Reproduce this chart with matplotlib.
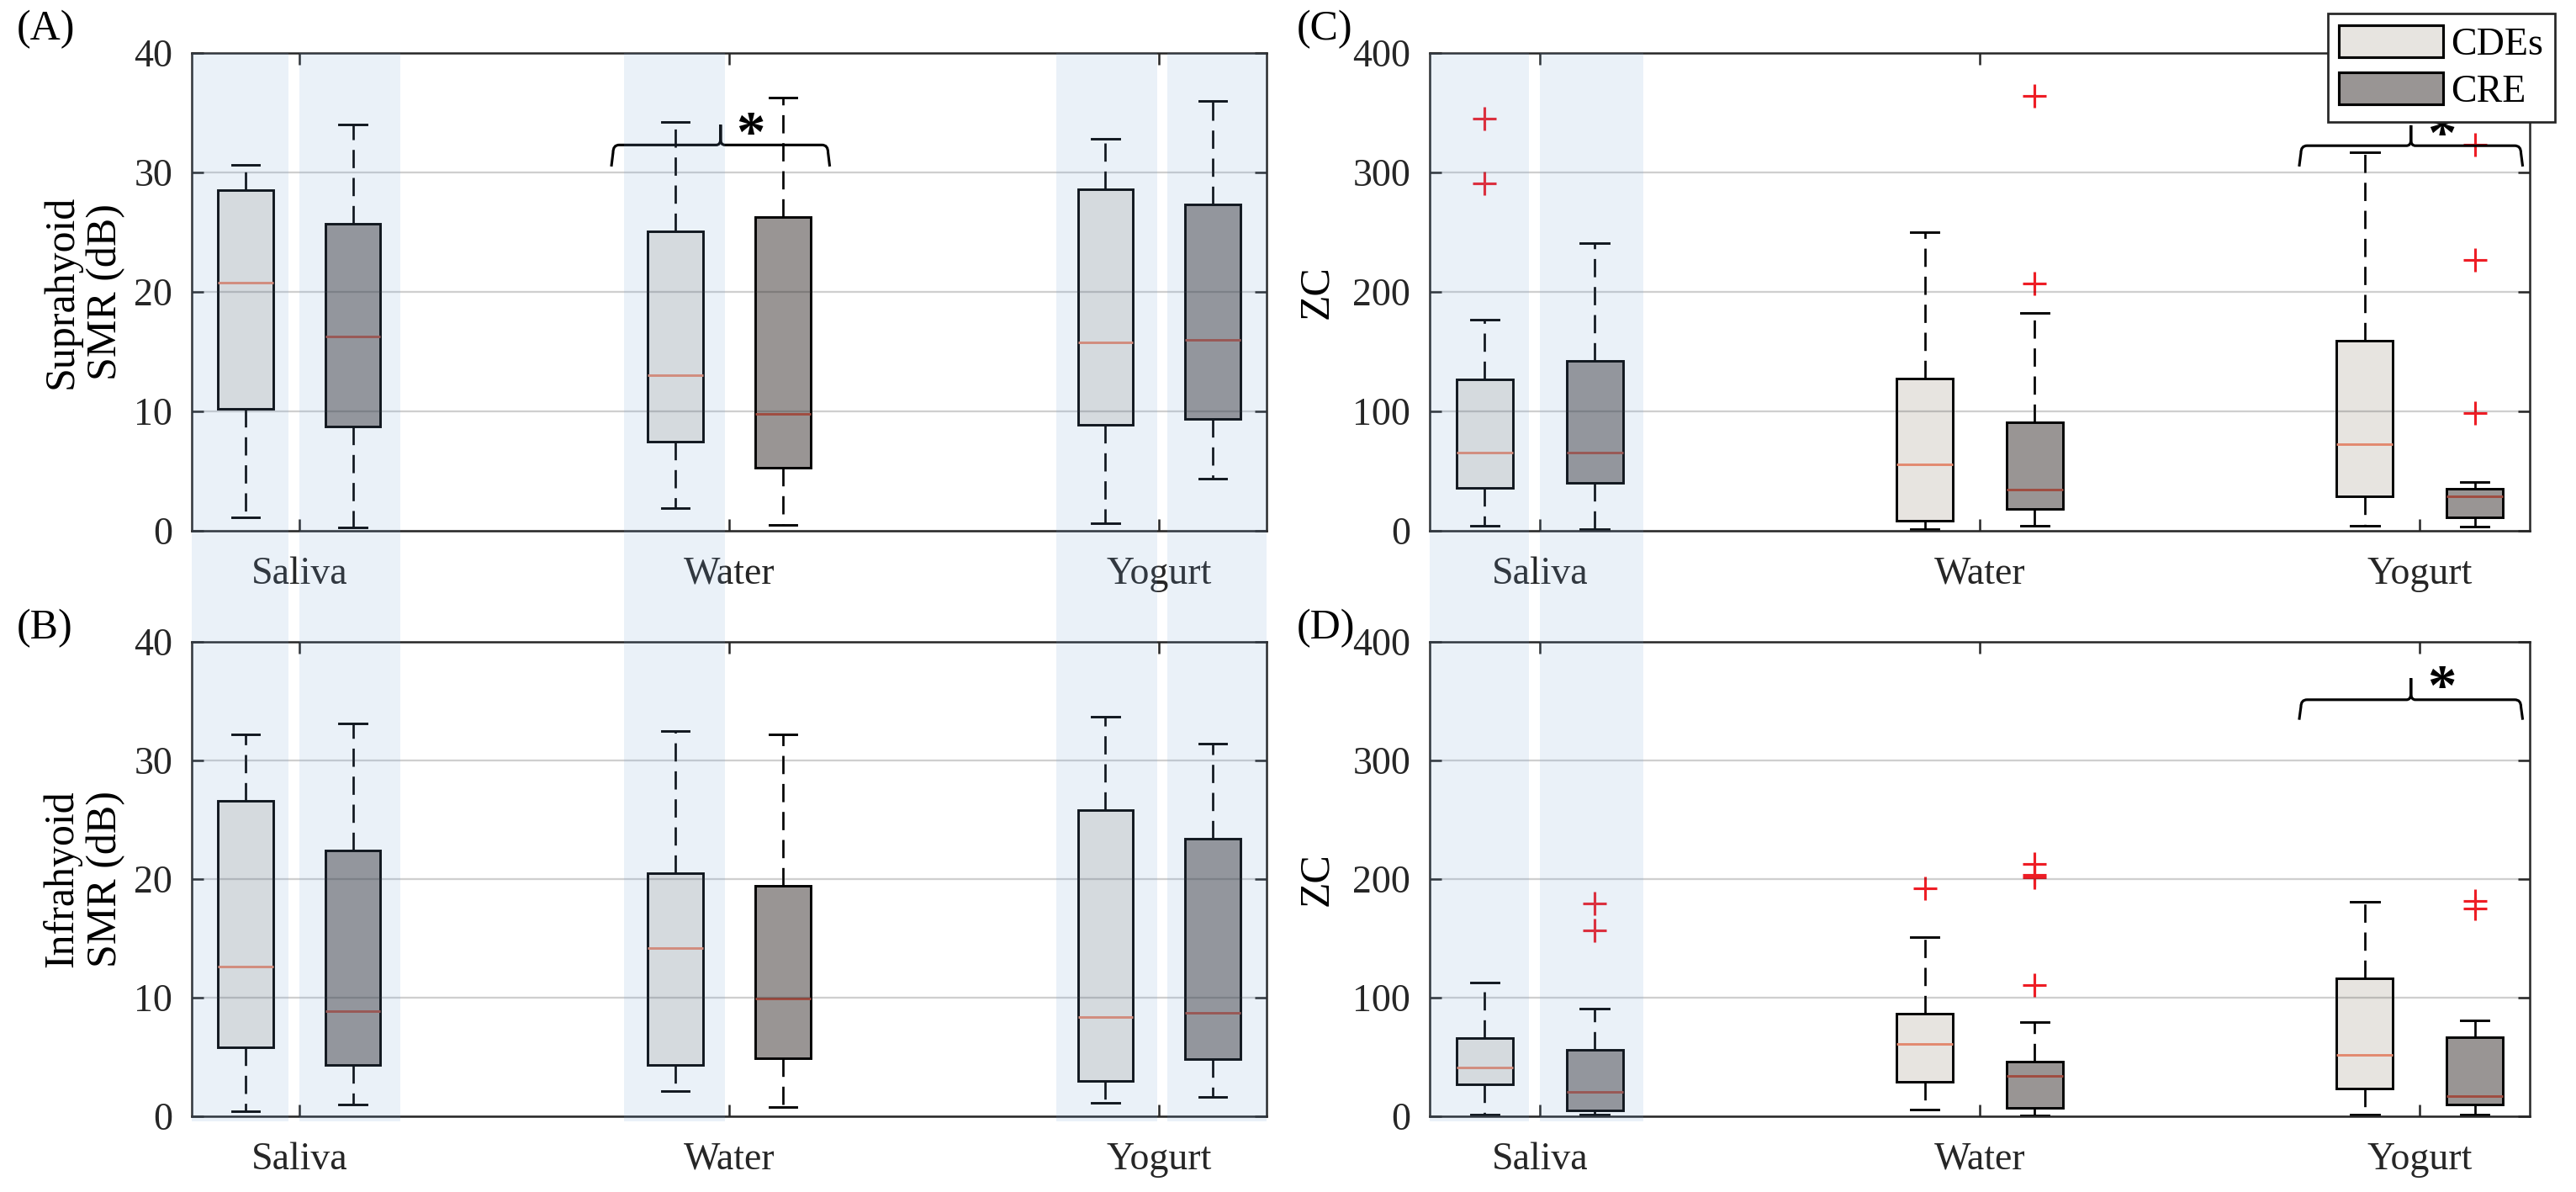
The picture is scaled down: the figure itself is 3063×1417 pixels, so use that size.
import numpy as np
import matplotlib.pyplot as plt
import matplotlib.transforms as mtransforms
from matplotlib.patches import Rectangle, Patch, PathPatch
from matplotlib.path import Path

plt.rcParams['font.family'] = ['Liberation Serif', 'DejaVu Serif']

# --- Data ---
categories = ['Saliva', 'Water', 'Yogurt']
series = ['CDEs', 'CRE']

# each row: [lower whisker, Q1, median, Q3, upper whisker] per category
supra_smr_cde = [[1.1, 10.2, 20.8, 28.5, 30.6],
                 [1.9, 7.5, 13.0, 25.1, 34.2],
                 [0.65, 8.9, 15.8, 28.6, 32.8]]
supra_smr_cre = [[0.3, 8.7, 16.3, 25.7, 34.0],
                 [0.5, 5.3, 9.8, 26.3, 36.3],
                 [4.4, 9.4, 16.0, 27.3, 36.0]]

infra_smr_cde = [[0.4, 5.8, 12.6, 26.6, 32.2],
                 [2.1, 4.3, 14.2, 20.5, 32.5],
                 [1.1, 3.0, 8.4, 25.8, 33.7]]
infra_smr_cre = [[1.0, 4.3, 8.9, 22.4, 33.1],
                 [0.8, 4.9, 9.9, 19.4, 32.2],
                 [1.6, 4.8, 8.7, 23.4, 31.4]]

supra_zc_cde = [[4.5, 35.9, 65.6, 126.8, 176.9],
                [1.6, 8.7, 55.6, 127.4, 250.0],
                [4.5, 29.1, 72.4, 159.1, 316.9]]
supra_zc_cre = [[1.6, 40.4, 65.6, 142.3, 240.9],
                [4.5, 18.4, 34.6, 90.9, 182.7],
                [3.6, 11.3, 29.1, 35.2, 40.7]]
supra_zc_cde_out = [[345.0, 290.7], [], []]
supra_zc_cre_out = [[], [363.8, 207.3], [323.0, 226.7, 98.3]]

infra_zc_cde = [[1.3, 26.9, 41.2, 66.2, 113.0],
                [5.6, 28.8, 60.8, 86.6, 151.0],
                [1.3, 23.4, 52.0, 116.2, 181.2]]
infra_zc_cre = [[1.3, 4.9, 20.8, 55.8, 90.9],
                [1.0, 7.2, 33.9, 46.2, 79.3],
                [1.3, 9.7, 17.2, 66.6, 80.8]]
infra_zc_cde_out = [[], [192.5], []]
infra_zc_cre_out = [[179.6, 156.8], [212.6, 203.5, 201.5, 110.4], [181.8, 175.0]]

no_out = [[], [], []]

# significance brackets: (category index, bar level, leg end, peak)
sig_supra_smr = [(1, 32.3, 30.5, 34.0)]
sig_infra_smr = []
sig_supra_zc = [(2, 322.4, 305.0, 339.5)]
sig_infra_zc = [(2, 351.2, 334.3, 369.4)]

# --- Styles ---
CDE_FACE = '#E7E4E0'
CRE_FACE = '#999594'
CDE_MED = '#E2896F'
CRE_MED = '#A04C40'
RED = '#EE1D25'
DARK = '#262626'
BAND = (0.45, 0.63, 0.84)

W, H = 3063, 1417
fig = plt.figure(figsize=(W / 300, H / 300), dpi=300)

def fx(px):
    return px / W

def fy(px):
    return 1 - px / H

axA = fig.add_axes([fx(228), fy(631), fx(1506) - fx(228), fy(63) - fy(631)])
axB = fig.add_axes([fx(228), fy(1327), fx(1506) - fx(228), fy(763) - fy(1327)])
axC = fig.add_axes([fx(1700), fy(631), fx(3008) - fx(1700), fy(63) - fy(631)])
axD = fig.add_axes([fx(1700), fy(1327), fx(3008) - fx(1700), fy(763) - fy(1327)])


def make_stats(rows, fliers):
    return [dict(whislo=r[0], q1=r[1], med=r[2], q3=r[3], whishi=r[4], fliers=f)
            for r, f in zip(rows, fliers)]


def add_bracket(ax, idx, yh, yl, yp):
    xc = idx + 1
    x0, x1 = xc - 0.27, xc + 0.23
    xm = (x0 + x1) / 2
    rx, ry = 0.014, (yh - yl) * 0.35
    cdx, cdy = 0.01, (yp - yh) * 0.3
    verts = [(x0 - 0.004, yl), (x0, yh - ry),
             (x0, yh), (x0 + rx, yh),
             (xm - cdx, yh),
             (xm, yh), (xm, yh + cdy),
             (xm, yp),
             (xm, yh + cdy),
             (xm, yh), (xm + cdx, yh),
             (x1 - rx, yh),
             (x1, yh), (x1, yh - ry),
             (x1 + 0.004, yl)]
    codes = [Path.MOVETO, Path.LINETO,
             Path.CURVE3, Path.CURVE3,
             Path.LINETO,
             Path.CURVE3, Path.CURVE3,
             Path.LINETO,
             Path.LINETO,
             Path.CURVE3, Path.CURVE3,
             Path.LINETO,
             Path.CURVE3, Path.CURVE3,
             Path.LINETO]
    ax.add_patch(PathPatch(Path(verts, codes), fill=False, lw=0.75,
                           edgecolor='k', clip_on=False, zorder=4))
    ax.annotate('*', (xm + 0.07, yp), xytext=(0, -7.6), textcoords='offset points',
                ha='center', va='baseline', fontsize=16.5, fontweight='bold',
                annotation_clip=False, zorder=4)


def draw_panel(ax, cde, cre, cde_out, cre_out, ymax, ylabel, label_x, sig):
    pos = np.arange(1, len(categories) + 1)
    for rows, fl, off, face, medc in [(cde, cde_out, -0.125, CDE_FACE, CDE_MED),
                                      (cre, cre_out, 0.125, CRE_FACE, CRE_MED)]:
        ax.bxp(make_stats(rows, fl), positions=pos + off, widths=0.128,
               patch_artist=True, manage_ticks=False,
               boxprops=dict(facecolor=face, edgecolor='k', linewidth=0.7),
               whiskerprops=dict(color='k', linewidth=0.65, linestyle=(0, (8, 4.3))),
               capprops=dict(color='k', linewidth=0.7),
               medianprops=dict(color=medc, linewidth=0.7),
               flierprops=dict(marker='+', markeredgecolor=RED, markersize=6.5,
                               markeredgewidth=0.75, linestyle='none'))
    ax.set_xlim(0.75, 3.25)
    ax.set_ylim(0, ymax)
    ax.set_xticks(pos, categories)
    ax.set_yticks(np.linspace(0, ymax, 5))
    ax.set_axisbelow(False)  # grid over the boxes, like the original
    ax.yaxis.grid(True, color=DARK, alpha=0.22, lw=0.55)
    ax.tick_params(direction='in', top=True, right=True, length=3.3, width=0.6,
                   color=DARK, labelcolor=DARK, labelsize=11)
    ax.tick_params(axis='x', pad=7.2)
    ax.tick_params(axis='y', pad=5.5)
    for s in ax.spines.values():
        s.set_linewidth(0.6)
        s.set_color(DARK)
    ax.set_ylabel(ylabel, fontsize=12, linespacing=1.15)
    ax.yaxis.set_label_coords(label_x, 0.5)
    for item in sig:
        add_bracket(ax, *item)


draw_panel(axA, supra_smr_cde, supra_smr_cre, no_out, no_out, 40,
           'Suprahyoid\nSMR (dB)', -0.062, sig_supra_smr)
draw_panel(axB, infra_smr_cde, infra_smr_cre, no_out, no_out, 40,
           'Infrahyoid\nSMR (dB)', -0.062, sig_infra_smr)
draw_panel(axC, supra_zc_cde, supra_zc_cre, supra_zc_cde_out, supra_zc_cre_out, 400,
           'ZC', -0.085, sig_supra_zc)
draw_panel(axD, infra_zc_cde, infra_zc_cre, infra_zc_cde_out, infra_zc_cre_out, 400,
           'ZC', -0.085, sig_infra_zc)

# light blue highlight bands running through both rows
band_top = fy(63)
band_bot = fy(1333)
bands_left = [(0.75, 0.975), (1.0, 1.235), (1.755, 1.99), (2.76, 2.995), (3.02, 3.25)]
bands_right = [(0.75, 0.975), (1.0, 1.235)]
for ax, bands in [(axA, bands_left), (axC, bands_right)]:
    trans = mtransforms.blended_transform_factory(ax.transData, fig.transFigure)
    for x0, x1 in bands:
        fig.add_artist(Rectangle((x0, band_bot), x1 - x0, band_top - band_bot,
                                 transform=trans, facecolor=BAND, alpha=0.15,
                                 edgecolor='none', zorder=10))

# panel letters
for txt, x, y in [('(A)', 20, 35), ('(B)', 20, 747), ('(C)', 1542, 35), ('(D)', 1542, 747)]:
    fig.text(fx(x), fy(y), txt, fontsize=12, ha='left', va='center')

handles = [Patch(facecolor=CDE_FACE, edgecolor='k', lw=0.75),
           Patch(facecolor=CRE_FACE, edgecolor='k', lw=0.75)]
leg = axC.legend(handles, series, loc='upper right',
                 bbox_to_anchor=(fx(3038), fy(16)), bbox_transform=fig.transFigure,
                 fancybox=False, framealpha=1, edgecolor=DARK, fontsize=11,
                 handlelength=2.7, handleheight=0.9, handletextpad=0.2,
                 borderpad=0.3, labelspacing=0.25, borderaxespad=0)
leg.get_frame().set_linewidth(0.65)
leg.set_zorder(20)

fig.savefig('out.png', dpi=300)
